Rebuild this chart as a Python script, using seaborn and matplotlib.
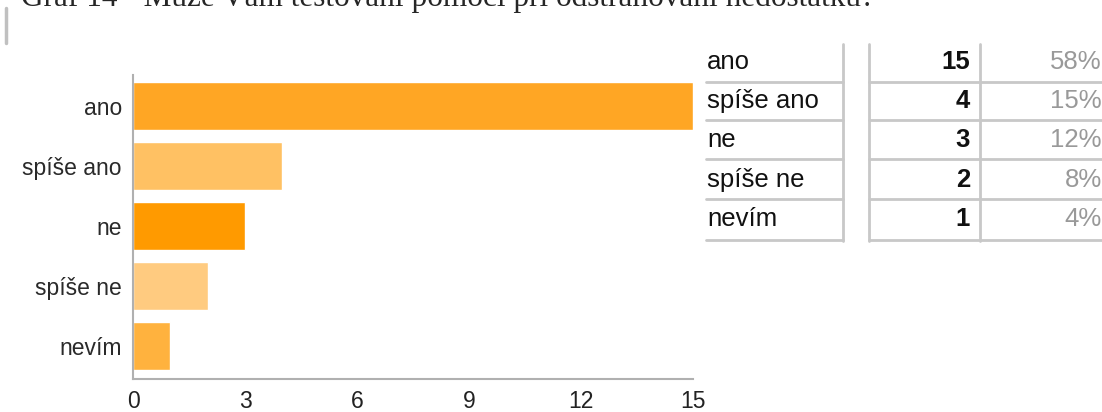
import matplotlib
matplotlib.use("Agg")
import matplotlib.pyplot as plt
import seaborn as sns

# data
categories = ["ano", "spíše ano", "ne", "spíše ne", "nevím"]
counts = [15, 4, 3, 2, 1]
percents = ["58%", "15%", "12%", "8%", "4%"]
bar_colors = ["#FFA624", "#FFC163", "#FF9A00", "#FFCB80", "#FFB23E"]
x_ticks = [0, 3, 6, 9, 12, 15]
title = "Graf 14 - Může Vám testování pomoci při odstraňování nedostatků?"

W, H = 1102, 412
sns.set_style("white")
plt.rcParams["font.family"] = ["Liberation Sans", "DejaVu Sans"]

fig = plt.figure(figsize=(W / 100, H / 100), dpi=100)
ax = fig.add_axes([133 / W, 1 - 379 / H, (693 - 133) / W, (379 - 75) / H])

sns.barplot(x=counts, y=categories, hue=categories, palette=bar_colors,
            orient="h", width=0.8, legend=False, saturation=1, ax=ax)

ax.set_xlim(0, 15)
ax.set_ylim(4.55, -0.52)
ax.set_xticks(x_ticks)
ax.set_xlabel("")
ax.set_ylabel("")
sns.despine(ax=ax)
for s in ["left", "bottom"]:
    ax.spines[s].set_color("#b0b0b0")
    ax.spines[s].set_linewidth(1.5)
ax.tick_params(axis="both", length=5, width=1, color="#b0b0b0", labelsize=16.5)
ax.tick_params(axis="y", labelcolor="#2a2a2a", pad=3)
ax.tick_params(axis="x", labelcolor="#222222", pad=3)

# overlay in pixel coordinates for the table and the cut-off caption
ov = fig.add_axes([0, 0, 1, 1], zorder=-1)
ov.set_xlim(0, W)
ov.set_ylim(H, 0)
ov.axis("off")

# caption is cut off by the top edge in the reference
ov.text(21, 6, title, family="Liberation Serif", fontsize=22.5, va="baseline", ha="left")
ov.plot([5.5, 5.5], [8, 43], color="#c0c0c0", lw=2.5)

line_c = "#c8c8c8"
row_lines = [82, 120, 159, 199, 240]
row_mid = [62, 101, 140, 180, 219]
for y in row_lines:
    ov.plot([706, 843], [y, y], color=line_c, lw=2)
    ov.plot([869, W], [y, y], color=line_c, lw=2)
for x in [843, 869, 980]:
    ov.plot([x, x], [44, 241], color=line_c, lw=2)

for cat, n, p, y in zip(categories, counts, percents, row_mid):
    ov.text(707, y, cat, fontsize=18.5, va="center", ha="left", color="#111111")
    ov.text(970, y, str(n), fontsize=18.5, fontweight="bold", va="center", ha="right", color="#111111")
    ov.text(1102, y, p, fontsize=18.5, va="center", ha="right", color="#999999")

fig.savefig("out.png", dpi=100)
